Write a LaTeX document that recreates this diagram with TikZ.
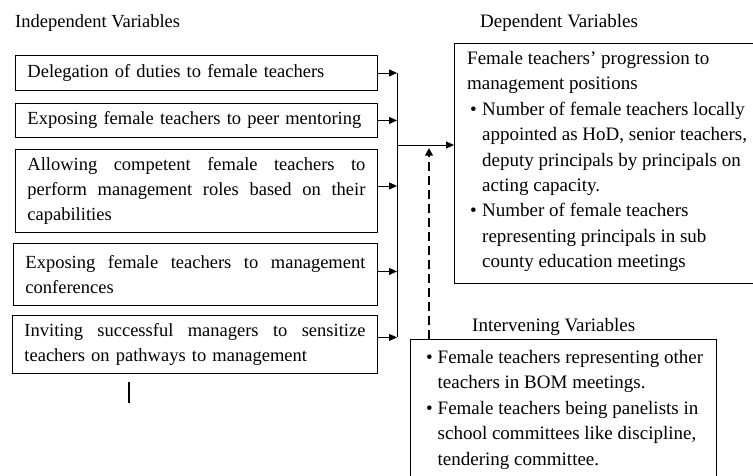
\documentclass[tikz,border=0pt]{standalone}
\usepackage{fontspec}
\setmainfont{Liberation Serif}
\usetikzlibrary{arrows.meta}
\newcommand{\jl}[2][338pt]{\leavevmode\hbox to #1{#2}}
\begin{document}
\begin{tikzpicture}[x=1pt,y=-1pt,
  txt/.style={font=\fontsize{19}{25.4}\selectfont},
  ltxt/.style={font=\fontsize{18.5}{25}\selectfont},
  box/.style={ltxt, draw=black, line width=0.9pt, anchor=north west, inner xsep=12pt, inner ysep=0pt, align=left},
  frame/.style={draw=black, line width=0.9pt, anchor=north west, inner sep=0pt},
  lbl/.style={txt, anchor=base west, inner sep=0pt},
  conn/.style={line width=0.9pt},
  arr/.style={conn, -{Triangle[length=8pt,width=7pt]}},
  darr/.style={line width=2pt, dash pattern=on 9pt off 5pt, -{Triangle[length=7.5pt,width=7.5pt]}}]
\useasboundingbox (0,0) rectangle (753,475);

% labels
\node[lbl, ltxt] (indl) at (15,27) {Independent Variables};
\node[lbl] (depl) at (480,27) {Dependent Variables};
\node[lbl] (ivl) at (472,331) {Intervening Variables};

% independent variable boxes
\node[box, minimum width=362pt, minimum height=35pt, text width=338pt] (b1) at (15,55)
  {\mbox{Delegation of duties to female teachers}};
\node[box, minimum width=362pt, minimum height=34pt, text width=338pt] (b2) at (15,103)
  {\mbox{Exposing female teachers to peer mentoring}};
\node[box, minimum width=362pt, minimum height=83pt, text width=338pt] (b3) at (15,149)
  {\jl{Allowing\hfill competent\hfill female\hfill teachers\hfill to}\\
   \jl{perform\hfill management\hfill roles\hfill based\hfill on\hfill their}\\
   capabilities};
\node[box, minimum width=364pt, minimum height=62pt, text width=340pt] (b4) at (13,243)
  {\jl[340pt]{Exposing\hfill female\hfill teachers\hfill to\hfill management}\\conferences};
\node[box, minimum width=365pt, minimum height=58pt, text width=341pt] (b5) at (12,315)
  {\jl[341pt]{Inviting\hfill successful\hfill managers\hfill to\hfill sensitize}\\
   \mbox{teachers on pathways to management}};

% dependent variable box
\node[frame, minimum width=320pt, minimum height=240pt] (dep) at (454,43) {};
\node[lbl] (deptxt) at (467,64.5) {\vtop{%
  \hbox{Female teachers’ progression to}
  \hbox{management positions}
  \hbox{\hspace*{3pt}\makebox[12pt][l]{•}Number of female teachers locally}
  \hbox{\hspace*{15pt}appointed as HoD, senior teachers,}
  \hbox{\hspace*{15pt}deputy principals by principals on}
  \hbox{\hspace*{15pt}acting capacity.}
  \hbox{\hspace*{3pt}\makebox[12pt][l]{•}Number of female teachers}
  \hbox{\hspace*{15pt}representing principals in sub}
  \hbox{\hspace*{15pt}county education meetings}}};

% intervening variable box
\node[frame, minimum width=306pt, minimum height=140pt] (iv) at (410,339) {};
\node[lbl] (ivtxt) at (426,363.5) {\vtop{%
  \hbox{\makebox[11.5pt][l]{•}Female teachers representing other}
  \hbox{\hspace*{11.5pt}teachers in BOM meetings.}
  \hbox{\makebox[11.5pt][l]{•}Female teachers being panelists in}
  \hbox{\hspace*{11.5pt}school committees like discipline,}
  \hbox{\hspace*{11.5pt}tendering committee.}}};

% connectors
\coordinate (bx) at (397,0);
\draw[arr] (b1.east) -- (b1.east -| bx);
\draw[arr] (b2.east) -- (b2.east -| bx);
\draw[arr] ([yshift=5pt]b3.east) -- ([yshift=5pt]b3.east -| bx);
\draw[arr] ([yshift=3pt]b4.east) -- ([yshift=3pt]b4.east -| bx);
\draw[arr] ([yshift=7pt]b5.east) -- ([yshift=7pt]b5.east -| bx);
\draw[conn] (b1.east -| bx) -- ([yshift=7pt]b5.east -| bx);
\coordinate (hj) at (397,145);
\draw[arr] (hj) -- (hj -| dep.west);
\coordinate (dt) at (429,148);
\draw[darr] (dt |- iv.north) -- (dt);

% stray mark
\coordinate (s1) at (129,382);
\coordinate (s2) at (129,403);
\draw[line width=1.4pt] (s1) -- (s2);
\end{tikzpicture}
\end{document}
